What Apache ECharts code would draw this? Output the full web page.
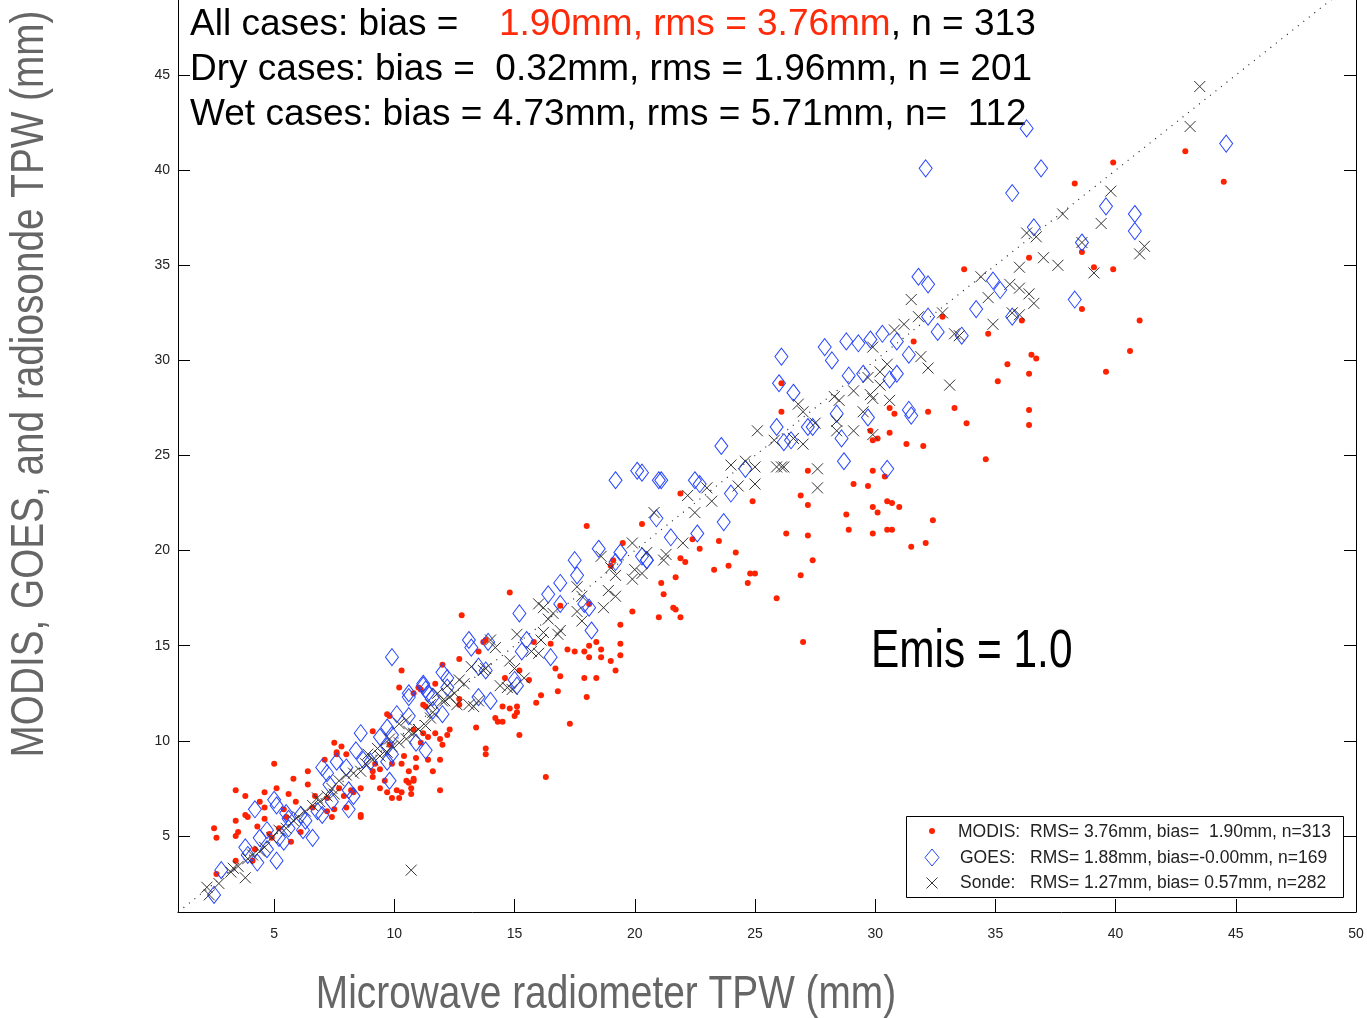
<!DOCTYPE html>
<html><head><meta charset="utf-8">
<script src="https://cdn.jsdelivr.net/npm/echarts@6/dist/echarts.min.js"></script>
<style>html,body{margin:0;padding:0;background:#fff}#c{width:1367px;height:1018px}</style>
</head><body><div id="c"></div>
<script>
const xTicks = [5,10,15,20,25,30,35,40,45,50];
const yTicks = [5,10,15,20,25,30,35,40,45];
const oneToOne = [[1,1],[50,50]];
const modis = [
[42.9,41.0],[39.9,40.4],[44.5,39.4],[38.3,39.3],[38.6,35.7],[36.4,35.4],[33.7,34.8],[39.1,34.9],[39.9,34.8],[38.6,32.7],[36.1,32.1],[41.0,32.1],[34.7,31.4],[40.6,30.5],[36.5,30.3],[36.7,30.1],[39.6,29.4],
[32.8,32.3],[31.6,31.0],[35.5,29.8],[36.4,29.3],[35.1,28.9],[26.1,28.8],[30.6,27.5],[30.8,27.2],[32.2,27.3],[33.3,27.5],[36.4,27.4],[36.4,26.6],[33.8,26.7],[29.8,26.3],[30.1,25.9],[29.9,25.8],[30.6,26.2],[31.3,25.6],[32.0,25.5],[34.6,24.8],[27.2,24.2],[29.9,24.2],[30.4,23.9],[26.1,27.3],
[29.1,23.5],[29.7,23.4],[26.9,22.9],[27.2,22.4],[29.9,22.3],[30.5,22.6],[30.7,22.5],[31.0,22.3],[30.1,22.0],[28.8,21.9],[32.4,21.6],[28.9,21.1],[29.9,20.9],[30.5,21.1],[30.7,21.1],[32.1,20.4],[31.5,20.2],[27.2,20.8],[26.3,20.9],[27.4,19.5],[26.9,18.7],[25.9,17.5],[27.0,15.2],[24.9,22.6],[23.5,20.5],[24.2,19.9],[23.9,19.2],[23.3,19.0],[24.8,18.8],[25.0,18.8],[24.7,18.3],[22.7,20.1],[21.9,19.6],[22.1,19.4],[21.7,18.6],[21.1,18.3],[21.2,17.7],[21.6,17.0],[21.7,16.9],[21.0,16.5],[21.9,16.5],[20.3,21.4],[21.9,23.0],[22.4,20.6],
[19.9,16.8],[19.4,16.1],[19.4,15.1],[19.4,14.5],[19.0,14.2],[18.6,14.4],[19.2,13.7],[18.4,13.3],[17.9,13.3],[18.1,14.4],[18.1,15.0],[18.4,15.2],[17.9,14.7],[17.5,14.7],[17.2,14.8],[16.7,13.8],[16.9,13.4],[16.8,12.6],[18.0,12.3],[16.1,12.4],[15.6,13.2],[16.5,15.1],[15.8,15.2],[15.2,13.7],[14.6,13.3],[13.8,15.3],[14.8,17.8],[18.0,21.3],[19.5,20.4],[19.1,19.5],[19.0,19.2],[16.9,17.1],[18.1,17.2],[18.6,14.8],
[12.8,16.6],[10.3,13.7],[13.7,15.2],[13.5,14.7],[12.7,14.3],[12.0,14.0],[11.1,12.7],[10.2,12.8],[10.8,12.5],[11.2,11.9],[12.7,12.2],[12.7,11.9],[14.5,11.8],[14.8,11.7],[15.1,11.8],[14.2,11.2],[14.3,11.0],[14.5,11.0],[15.0,11.3],[15.1,11.5],[13.4,10.7],[15.2,10.3],[13.8,9.6],[13.8,9.3],[17.3,10.9],[16.3,8.1],[15.9,12.0],
[7.5,9.9],[7.8,9.7],[7.6,9.3],[9.1,10.5],[9.7,11.4],[11.4,9.0],[11.6,8.4],[11.9,9.0],[10.8,8.0],[10.7,7.5],[10.7,7.2],[10.3,7.3],[9.9,7.0],[10.2,7.0],[11.9,7.4],[10.6,7.8],[8.2,7.4],[8.6,7.5],[8.6,6.1],[11.7,10.4],[11.4,10.2],[12.0,9.8],[12.2,10.3],[11.1,9.9],[9.8,9.8],[10.4,9.2],[10.9,9.1],[10.3,8.8],[9.9,8.8],
[11.7,13.0],[11.0,12.8],[11.3,11.8],[9.8,11.3],[7.6,9.4],[8.0,9.3],[7.1,9.0],[6.4,8.4],[5.0,8.8],[5.8,8.0],[5.1,7.5],[4.6,7.3],[3.4,7.4],[3.8,7.1],[5.6,7.2],[5.9,6.8],[6.4,7.7],[6.7,7.1],[5.4,6.4],[5.5,6.0],[4.6,6.5],[4.3,5.5],[3.8,6.1],[3.9,6.0],[3.4,5.8],[3.5,5.2],[3.4,5.0],[2.5,5.4],[2.6,4.9],[5.7,4.7],[4.8,5.1],[6.1,5.2],[7.2,6.3],[7.4,6.0],[8.0,6.5],[8.6,6.0],[8.3,7.3],[7.7,7.5],[7.9,7.1],[9.1,8.1],[9.4,7.5],[10.5,7.9],[10.8,7.9],[10.9,8.6],[10.6,8.4],[11.9,10.1],[12.3,10.6],[11.2,10.4],[10.8,10.6],[10.1,7.4],[9.7,7.3],[9.2,8.8],[9.4,8.5],[9.1,8.4],[9.6,7.9],[4.2,4.3],[2.6,3.0],[3.4,3.7],[4.1,3.7],[5.2,5.4],[4.9,4.9],[4.4,6.8],[7.2,7.0],[7.5,6.4],[6.6,6.5],[4.6,5.9]
];
const goes = [
[36.3,42.2],[44.6,41.4],[36.9,40.1],[35.7,38.8],[39.6,38.1],[40.8,37.7],[40.8,36.8],[36.6,37.0],[38.6,36.2],[34.9,34.2],[35.2,33.7],[34.2,32.7],[38.3,33.2],[35.7,32.3],[33.6,31.3],[32.1,40.1],
[31.8,34.4],[32.2,34.0],[32.2,32.3],[32.6,31.5],[30.9,31.0],[30.3,31.4],[29.8,31.1],[29.3,30.9],[28.8,31.0],[27.9,30.7],[28.2,30.0],[31.4,30.3],[30.9,29.3],[30.6,29.0],[29.5,29.3],[28.9,29.2],[29.7,27.0],[28.4,27.2],[31.4,27.4],[31.5,27.1],[28.6,25.9],[28.7,24.7],[30.5,24.3],[26.6,28.3],[26.1,30.2],[27.2,26.5],[27.4,26.5],[26.5,25.8],[26.2,25.7],
[26.0,28.8],[25.9,26.5],[23.6,25.5],[24.6,24.3],[23.7,21.5],[22.6,20.9],[21.5,20.7],[20.5,19.5],[21.0,23.7],[20.3,24.1],[20.9,21.7],[22.5,23.7],[22.7,23.5],[24.0,23.0],
[19.2,23.7],[20.1,24.2],[21.1,23.7],[18.5,20.1],[19.4,19.9],[19.2,19.4],[17.5,19.5],[17.6,18.7],[20.3,19.7],[20.5,19.5],[16.9,18.3],[16.4,17.7],[16.9,17.2],[15.2,16.7],[17.9,17.2],[18.1,17.0],[18.2,15.8],[15.5,15.3],[15.3,14.7],[16.5,14.4],[13.9,15.2],[15.0,13.2],[15.1,12.9],
[9.9,14.4],[13.1,15.3],[13.2,14.9],[13.5,13.9],[13.8,13.7],[12.0,13.6],[12.2,13.3],[11.2,12.9],[10.6,12.5],[10.6,12.3],[11.4,12.5],[11.6,12.3],[13.5,12.3],[14.0,12.1],
[4.2,6.4],[5.0,6.9],[5.1,6.6],[3.8,4.4],[3.9,4.0],[2.8,3.2],[2.5,1.9],[4.7,5.3],[4.4,4.9],[5.2,4.9],[5.4,4.7],[5.6,5.4],[4.7,4.3],[5.1,3.7],[4.3,3.6],[6.6,4.9],[5.5,6.2],[5.6,5.9],[6.1,6.1],[6.3,5.8],[6.8,6.3],[7.0,6.1],[7.4,6.8],[8.1,6.4],[7.0,8.6],[7.2,8.3],[7.3,7.7],[8.1,7.4],[8.3,7.1],[8.6,10.4],[8.4,9.5],[7.6,8.9],[8.0,8.6],[8.7,9.0],[9.0,8.9],[9.7,10.7],[9.9,10.3],[9.7,9.7],[9.9,9.3],[9.8,7.9],[10.1,11.4],[10.6,11.3],[10.9,9.9],[11.3,9.5],[11.6,11.6],[12.0,11.4],[9.4,10.2],[12.2,12.8],[11.3,12.7],[11.2,13.0],[9.7,8.9],[6.2,5.3]
];
const sonde = [
[43.5,44.4],[43.1,42.3],[39.8,38.9],[37.8,37.7],[39.4,37.2],[36.3,36.7],[36.7,36.5],[38.6,36.2],[41.2,36.0],[41.0,35.6],[37.0,35.4],[37.6,35.0],[36.0,34.9],[39.1,34.6],[34.4,34.4],[35.6,34.0],[36.0,33.8],[36.4,33.5],[34.7,33.3],[36.6,33.0],[35.7,32.5],[36.0,32.4],[34.9,31.9],[33.3,31.4],
[31.5,33.2],[32.8,32.5],[31.8,32.3],[31.2,31.9],[33.5,31.3],[30.8,31.6],[29.9,30.7],[31.9,30.2],[32.2,29.6],[30.5,29.8],[30.2,29.4],[29.7,29.1],[33.1,28.7],[29.1,28.4],[30.2,28.7],[29.8,28.2],[28.3,28.1],[28.5,27.9],[30.6,27.9],[29.5,27.3],[28.4,26.8],[29.1,26.3],[28.4,26.3],[29.9,26.1],[27.6,24.3],[26.2,24.4],[26.8,27.7],[27.0,27.3],[27.5,26.7],[27.0,25.6],
[26.6,25.9],[25.8,25.8],[25.1,26.3],[29.9,28.0],[27.6,23.3],[22.0,20.4],[21.3,19.8],[20.5,19.9],[20.3,18.8],[20.8,22.0],[22.5,22.0],[22.2,22.9],[23.2,22.6],[23.0,23.3],[24.3,23.4],[25.0,23.5],[24.0,24.5],[24.6,24.7],[25.0,24.4],[25.9,24.4],[26.1,24.4],
[19.9,20.4],[21.2,19.5],[18.6,19.7],[19.0,19.1],[19.2,18.7],[20.0,19.0],[19.9,18.5],[18.9,17.9],[19.2,17.6],[18.7,17.0],[17.6,18.1],[17.8,17.6],[17.6,16.8],[17.8,16.3],[16.0,17.2],[16.2,17.0],[16.6,16.7],[16.4,16.4],[16.9,15.8],[16.8,15.6],[16.2,15.7],[16.1,15.3],[15.1,15.6],[15.7,14.7],[16.0,14.6],[14.0,15.3],[14.2,14.9],[14.8,14.2],[15.0,13.8],[13.8,13.8],[14.4,12.9],[14.7,12.8],[14.9,12.7],[15.4,13.3],
[13.2,13.9],[13.7,13.7],[12.7,13.2],[12.9,13.0],[12.2,12.9],[12.5,12.5],[11.8,12.5],[12.1,12.1],[11.5,11.9],[13.5,12.1],[13.1,11.9],[13.3,11.8],
[2.3,1.9],[2.2,2.3],[2.7,2.5],[3.3,3.3],[3.5,3.4],[3.2,3.1],[3.8,2.8],[3.9,3.8],[4.1,4.0],[4.4,4.2],[4.6,4.4],[4.9,4.9],[5.2,5.3],[5.5,5.4],[5.8,5.8],[6.0,6.0],[6.3,6.3],[6.6,6.6],[6.9,6.8],[7.2,7.1],[7.4,7.5],[7.7,7.9],[8.0,8.2],[8.3,8.3],[8.6,8.4],[8.8,8.8],[9.1,9.0],[9.4,9.2],[9.7,9.4],[9.9,9.7],[10.2,9.9],[10.5,10.1],[10.8,10.4],[11.0,10.6],[11.3,10.8],[10.2,10.9],[10.5,11.1],[11.5,11.2],[11.6,11.5],[12.0,12.1],[12.3,12.3],[12.6,11.9],[10.7,3.2],
[6.8,7.0],[7.5,7.2],[8.9,9.3],[9.3,9.6],[9.8,10.1],[10.6,10.5]
];
const statLines = ['All cases: bias =', '1.90mm, rms = 3.76mm', ', n = 313', 'Dry cases: bias =  0.32mm, rms = 1.96mm, n = 201', 'Wet cases: bias = 4.73mm, rms = 5.71mm, n=  112'];
const legendLines = ['MODIS:  RMS= 3.76mm, bias=  1.90mm, n=313', 'GOES:   RMS= 1.88mm, bias=-0.00mm, n=169', 'Sonde:   RMS= 1.27mm, bias= 0.57mm, n=282'];

const FONT = '"Liberation Sans", Arial, Helvetica, sans-serif';
const chart = echarts.init(document.getElementById('c'));
const xMark = 'path://M0,0L10,10M10,0L0,10';
const tickLabel = {fontSize: 14, color: '#222', fontFamily: FONT};
const axisLineStyle = {show: true, onZero: false, lineStyle: {color: '#000', width: 1}};
chart.setOption({
  animation: false,
  backgroundColor: '#fff',
  grid: {left: 178, right: 11, top: 0, bottom: 106, show: false},
  xAxis: {type: 'value', min: 1, max: 50,
    axisLine: axisLineStyle,
    axisTick: {show: true, inside: true, length: 13, customValues: xTicks, lineStyle: {color: '#000'}},
    axisLabel: Object.assign({customValues: xTicks, margin: 15}, tickLabel),
    splitLine: {show: false}},
  yAxis: [
    {type: 'value', min: 1, max: 48.95,
     axisLine: axisLineStyle,
     axisTick: {show: true, inside: true, length: 12, customValues: yTicks, lineStyle: {color: '#000'}},
     axisLabel: Object.assign({customValues: yTicks, margin: 8}, tickLabel),
     splitLine: {show: false}},
    {type: 'value', min: 1, max: 48.95, position: 'right',
     axisLine: axisLineStyle,
     axisTick: {show: true, inside: true, length: 12, customValues: yTicks, lineStyle: {color: '#000'}},
     axisLabel: {show: false}, splitLine: {show: false}}
  ],
  series: [
    {type: 'line', data: oneToOne, symbol: 'none', silent: true, z: 1, clip: true,
     lineStyle: {color: '#222', width: 1.2, type: [1, 6]}},
    {type: 'scatter', name: 'MODIS', data: modis, symbol: 'circle', symbolSize: 6, z: 2,
     itemStyle: {color: '#ff2200', opacity: 1}},
    {type: 'scatter', name: 'GOES', data: goes, symbol: 'diamond', symbolSize: [13, 17], z: 3,
     itemStyle: {color: 'rgba(0,0,0,0)', borderColor: '#2646ff', borderWidth: 1, opacity: 1}},
    {type: 'scatter', name: 'Sonde', data: sonde, symbol: xMark, symbolSize: 11, z: 4,
     itemStyle: {color: 'rgba(0,0,0,0)', borderColor: '#333', borderWidth: 1, opacity: 1}}
  ],
  graphic: [
    {type: 'text', x: 190, y: 25, style: {text: statLines[0], font: '37px ' + FONT, fill: '#000', align: 'left', verticalAlign: 'middle'}},
    {type: 'text', x: 499, y: 25, style: {text: '{r|' + statLines[1] + '}{k|' + statLines[2] + '}', align: 'left', verticalAlign: 'middle',
      rich: {r: {font: '37px ' + FONT, fill: '#ff2a0a'}, k: {font: '37px ' + FONT, fill: '#000'}}}},
    {type: 'text', x: 190, y: 70, style: {text: statLines[3], font: '37px ' + FONT, fill: '#000', align: 'left', verticalAlign: 'middle'}},
    {type: 'text', x: 190, y: 115, style: {text: statLines[4], font: '37px ' + FONT, fill: '#000', align: 'left', verticalAlign: 'middle'}},
    {type: 'text', x: 871, y: 652, scaleX: 0.8, style: {text: 'Emis = 1.0', font: '53px ' + FONT, fill: '#000', align: 'left', verticalAlign: 'middle'}},
    {type: 'text', x: 606, y: 995, scaleX: 0.844, style: {text: 'Microwave radiometer TPW (mm)', font: '46px ' + FONT, fill: '#666', align: 'center', verticalAlign: 'middle'}},
    {type: 'text', x: 30, y: 384, rotation: Math.PI / 2, scaleX: 0.842, style: {text: 'MODIS, GOES, and radiosonde TPW (mm)', font: '46px ' + FONT, fill: '#666', align: 'center', verticalAlign: 'middle'}},
    {type: 'rect', shape: {x: 906.5, y: 816.5, width: 437, height: 81}, style: {fill: '#fff', stroke: '#000', lineWidth: 1}, z: 10},
    {type: 'circle', shape: {cx: 932, cy: 831, r: 3}, style: {fill: '#ff2200'}, z: 11},
    {type: 'polygon', shape: {points: [[932, 849], [939, 857.5], [932, 866], [925, 857.5]]}, style: {fill: 'none', stroke: '#2646ff', lineWidth: 1}, z: 11},
    {type: 'polyline', shape: {points: [[926.5, 877.5], [937.5, 888.5]]}, style: {stroke: '#333', lineWidth: 1}, z: 11},
    {type: 'polyline', shape: {points: [[937.5, 877.5], [926.5, 888.5]]}, style: {stroke: '#333', lineWidth: 1}, z: 11},
    {type: 'text', x: 958, y: 832, z: 11, style: {text: legendLines[0], font: '17.5px ' + FONT, fill: '#222', align: 'left', verticalAlign: 'middle'}},
    {type: 'text', x: 960, y: 858, z: 11, style: {text: legendLines[1], font: '17.5px ' + FONT, fill: '#222', align: 'left', verticalAlign: 'middle'}},
    {type: 'text', x: 960, y: 883, z: 11, style: {text: legendLines[2], font: '17.5px ' + FONT, fill: '#222', align: 'left', verticalAlign: 'middle'}}
  ]
});
</script></body></html>
